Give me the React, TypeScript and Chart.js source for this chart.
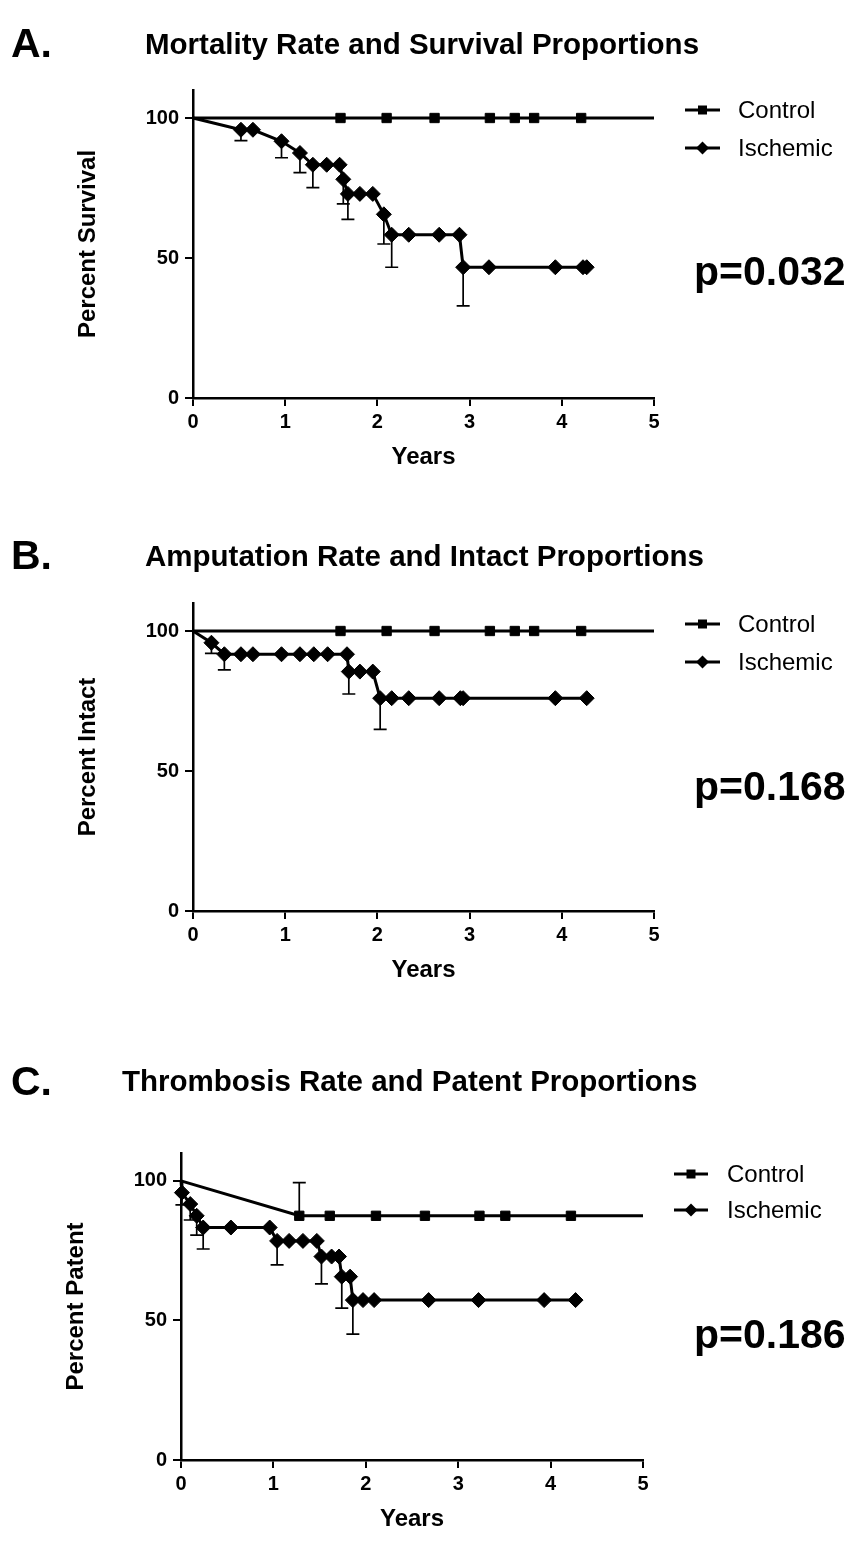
import React, { useEffect, useRef } from 'react';
import { Chart, registerables } from 'chart.js';

Chart.register(...registerables);

const FONT = '"Liberation Sans", Arial, Helvetica, sans-serif';

// ---------- shared ticks ----------
const xTickValues = [0, 1, 2, 3, 4, 5];
const yTickValues = [0, 50, 100];
const xMin = 0;
const xMax = 5;
const yMin = 0;
const yMax = 110;

// ---------- Panel A: Mortality ----------
const aControlYears = [0, 1.6, 2.1, 2.62, 3.22, 3.49, 3.7, 4.21, 5];
const aControlPct = [100, 100, 100, 100, 100, 100, 100, 100, 100];
const aControlErr: (number | null)[] = [null, null, null, null, null, null, null, null, null];
const aIschemicYears = [0, 0.52, 0.65, 0.96, 1.16, 1.3, 1.45, 1.59, 1.63, 1.68, 1.81, 1.95, 2.07, 2.155, 2.34, 2.67, 2.89, 2.93, 3.21, 3.93, 4.23, 4.27];
const aIschemicPct = [100, 95.8, 95.8, 91.7, 87.5, 83.3, 83.3, 83.3, 78.1, 72.9, 72.9, 72.9, 65.6, 58.3, 58.3, 58.3, 58.3, 46.7, 46.7, 46.7, 46.7, 46.7];
const aIschemicErr: (number | null)[] = [null, 91.9, null, 85.8, 80.5, 75.1, null, null, 69.3, 63.8, null, null, 55.0, 46.7, null, null, null, 32.9, null, null, null, null];

// ---------- Panel B: Amputation ----------
const bControlYears = [0, 1.6, 2.1, 2.62, 3.22, 3.49, 3.7, 4.21, 5];
const bControlPct = [100, 100, 100, 100, 100, 100, 100, 100, 100];
const bControlErr: (number | null)[] = [null, null, null, null, null, null, null, null, null];
const bIschemicYears = [0, 0.2, 0.34, 0.52, 0.65, 0.96, 1.16, 1.31, 1.46, 1.67, 1.69, 1.81, 1.95, 2.03, 2.155, 2.34, 2.67, 2.9, 2.93, 3.93, 4.27];
const bIschemicPct = [100, 95.8, 91.7, 91.7, 91.7, 91.7, 91.7, 91.7, 91.7, 91.7, 85.5, 85.5, 85.5, 76.0, 76.0, 76.0, 76.0, 76.0, 76.0, 76.0, 76.0];
const bIschemicErr: (number | null)[] = [null, 92.0, 86.1, null, null, null, null, null, null, null, 77.5, null, null, 64.9, null, null, null, null, null, null, null];

// ---------- Panel C: Thrombosis ----------
const cControlYears = [0, 1.28, 1.61, 2.11, 2.64, 3.23, 3.51, 4.22, 5];
const cControlPct = [100, 87.5, 87.5, 87.5, 87.5, 87.5, 87.5, 87.5, 87.5];
const cControlErr: (number | null)[] = [null, 99.4, null, null, null, null, null, null, null];
const cIschemicYears = [0, 0.01, 0.1, 0.17, 0.24, 0.54, 0.96, 1.04, 1.17, 1.32, 1.47, 1.52, 1.63, 1.71, 1.74, 1.83, 1.86, 1.97, 2.09, 2.68, 3.22, 3.93, 4.27];
const cIschemicPct = [100, 95.8, 91.7, 87.5, 83.3, 83.3, 83.3, 78.5, 78.5, 78.5, 78.5, 72.9, 72.9, 72.9, 65.7, 65.7, 57.3, 57.3, 57.3, 57.3, 57.3, 57.3, 57.3];
const cIschemicErr: (number | null)[] = [null, 91.4, 86.0, 80.6, 75.6, null, null, 69.9, null, null, null, 63.1, null, null, 54.4, null, 45.1, null, null, null, null, null, null];

const seriesLabels = ['Control', 'Ischemic'];

type Series = { years: number[]; pct: number[]; err: (number | null)[] };
type PanelCfg = {
  top: number;
  height: number;
  area: { left: number; right: number; top: number; bottom: number };
  letter: string;
  letterPos: [number, number];
  title: string;
  titlePos: [number, number];
  yTitle: string;
  control: Series;
  ischemic: Series;
  legend: { x1: number; x2: number; textX: number; y1: number; y2: number };
  p: string;
  pPos: [number, number];
};

const PANELS: PanelCfg[] = [
  {
    top: 0,
    height: 500,
    area: { left: 193, right: 654, top: 90, bottom: 398 },
    letter: 'A.',
    letterPos: [11, 57],
    title: 'Mortality Rate and Survival Proportions',
    titlePos: [145, 54],
    yTitle: 'Percent Survival',
    control: { years: aControlYears, pct: aControlPct, err: aControlErr },
    ischemic: { years: aIschemicYears, pct: aIschemicPct, err: aIschemicErr },
    legend: { x1: 685, x2: 720, textX: 738, y1: 110, y2: 148 },
    p: 'p=0.032',
    pPos: [694, 285],
  },
  {
    top: 500,
    height: 520,
    area: { left: 193, right: 654, top: 603, bottom: 911 },
    letter: 'B.',
    letterPos: [11, 569],
    title: 'Amputation Rate and Intact Proportions',
    titlePos: [145, 566],
    yTitle: 'Percent Intact',
    control: { years: bControlYears, pct: bControlPct, err: bControlErr },
    ischemic: { years: bIschemicYears, pct: bIschemicPct, err: bIschemicErr },
    legend: { x1: 685, x2: 720, textX: 738, y1: 624, y2: 662 },
    p: 'p=0.168',
    pPos: [694, 800],
  },
  {
    top: 1020,
    height: 523,
    area: { left: 181, right: 643, top: 1153, bottom: 1460 },
    letter: 'C.',
    letterPos: [11, 1095],
    title: 'Thrombosis Rate and Patent Proportions',
    titlePos: [122, 1091],
    yTitle: 'Percent Patent',
    control: { years: cControlYears, pct: cControlPct, err: cControlErr },
    ischemic: { years: cIschemicYears, pct: cIschemicPct, err: cIschemicErr },
    legend: { x1: 674, x2: 708, textX: 727, y1: 1174, y2: 1210 },
    p: 'p=0.186',
    pPos: [694, 1348],
  },
];

const Y_W = 120;
const X_H = 80;
const PAGE_W = 866;

const errorBarPlugin = {
  id: 'errorBars',
  beforeDatasetsDraw(chart: any) {
    const ctx = chart.ctx;
    const ys = chart.scales.y;
    ctx.save();
    ctx.strokeStyle = '#000';
    ctx.lineWidth = 1.7;
    chart.data.datasets.forEach((ds: any, di: number) => {
      const meta = chart.getDatasetMeta(di);
      const errs = ds.errEnds || [];
      meta.data.forEach((pt: any, i: number) => {
        const e = errs[i];
        if (e === null || e === undefined) return;
        const x = pt.x;
        const y0 = pt.y;
        const y1 = ys.getPixelForValue(e);
        ctx.beginPath();
        ctx.moveTo(x, y0);
        ctx.lineTo(x, y1);
        ctx.moveTo(x - 6.5, y1);
        ctx.lineTo(x + 6.5, y1);
        ctx.stroke();
      });
    });
    ctx.restore();
  },
};

function makeTextPlugin(cfg: PanelCfg) {
  return {
    id: 'panelText',
    afterDraw(chart: any) {
      const ctx = chart.ctx as CanvasRenderingContext2D;
      const off = cfg.top;
      ctx.save();
      ctx.fillStyle = '#000';
      ctx.strokeStyle = '#000';
      ctx.textAlign = 'left';
      ctx.textBaseline = 'alphabetic';
      // panel letter
      ctx.font = `bold 41px ${FONT}`;
      ctx.fillText(cfg.letter, cfg.letterPos[0], cfg.letterPos[1] - off);
      // title
      ctx.font = `bold 29.5px ${FONT}`;
      ctx.fillText(cfg.title, cfg.titlePos[0], cfg.titlePos[1] - off);
      // legend
      const lg = cfg.legend;
      const rows = [lg.y1, lg.y2];
      rows.forEach((yy, idx) => {
        const y = yy - off;
        ctx.lineWidth = 3;
        ctx.beginPath();
        ctx.moveTo(lg.x1, y);
        ctx.lineTo(lg.x2, y);
        ctx.stroke();
        const cx = (lg.x1 + lg.x2) / 2;
        ctx.beginPath();
        if (idx === 0) {
          ctx.rect(cx - 4.5, y - 4.5, 9, 9);
        } else {
          ctx.moveTo(cx, y - 6.5);
          ctx.lineTo(cx + 6.5, y);
          ctx.lineTo(cx, y + 6.5);
          ctx.lineTo(cx - 6.5, y);
          ctx.closePath();
        }
        ctx.fill();
        ctx.font = `24px ${FONT}`;
        ctx.textBaseline = 'middle';
        ctx.fillText(seriesLabels[idx], lg.textX, y + 1);
        ctx.textBaseline = 'alphabetic';
      });
      // p value
      ctx.font = `bold 41px ${FONT}`;
      ctx.fillText(cfg.p, cfg.pPos[0], cfg.pPos[1] - off);
      ctx.restore();
    },
  };
}

function markerRadius(r: number) {
  return (c: any) => {
    const raw = c.raw;
    if (!raw) return r;
    return raw.x === xMin || raw.x === xMax ? 0 : r;
  };
}

function Panel({ cfg }: { cfg: PanelCfg }) {
  const ref = useRef<HTMLCanvasElement | null>(null);
  useEffect(() => {
    if (!ref.current) return;
    const toPts = (s: Series) => s.years.map((x, i) => ({ x, y: s.pct[i] }));
    const tickFont = { family: FONT, size: 20, weight: 'bold' as const };
    const titleFont = { family: FONT, size: 24, weight: 'bold' as const };
    const chart = new Chart(ref.current, {
      type: 'line',
      data: {
        datasets: [
          {
            label: seriesLabels[0],
            data: toPts(cfg.control),
            errEnds: cfg.control.err,
            borderColor: '#000',
            backgroundColor: '#000',
            borderWidth: 3,
            pointStyle: 'rect',
            pointRadius: markerRadius(6.6),
            pointBackgroundColor: '#000',
            pointBorderColor: '#000',
            pointBorderWidth: 1,
            tension: 0,
            clip: false,
            fill: false,
          } as any,
          {
            label: seriesLabels[1],
            data: toPts(cfg.ischemic),
            errEnds: cfg.ischemic.err,
            borderColor: '#000',
            backgroundColor: '#000',
            borderWidth: 3,
            pointStyle: 'rectRot',
            pointRadius: markerRadius(7.5),
            pointBackgroundColor: '#000',
            pointBorderColor: '#000',
            pointBorderWidth: 1,
            tension: 0,
            clip: false,
            fill: false,
          } as any,
        ],
      },
      options: {
        animation: false,
        responsive: false,
        devicePixelRatio: 1,
        events: [],
        layout: {
          padding: {
            left: cfg.area.left - Y_W,
            right: PAGE_W - cfg.area.right,
            top: cfg.area.top - cfg.top,
            bottom: cfg.top + cfg.height - cfg.area.bottom - X_H,
          },
        },
        plugins: {
          legend: { display: false },
          tooltip: { enabled: false },
          title: { display: false },
        },
        scales: {
          x: {
            type: 'linear',
            min: xMin,
            max: xMax,
            afterBuildTicks: (s: any) => {
              s.ticks = xTickValues.map((v) => ({ value: v }));
            },
            afterFit: (s: any) => {
              s.height = X_H;
            },
            border: { display: true, color: '#000', width: 2.5 },
            grid: {
              display: true,
              drawOnChartArea: false,
              drawTicks: true,
              tickLength: 8,
              color: '#000',
              lineWidth: 2,
            },
            ticks: {
              color: '#000',
              font: tickFont,
              padding: 4,
              maxRotation: 0,
              autoSkip: false,
            },
            title: {
              display: true,
              text: 'Years',
              color: '#000',
              font: titleFont,
              padding: { top: 0, bottom: 6 },
            },
          },
          y: {
            type: 'linear',
            min: yMin,
            max: yMax,
            afterBuildTicks: (s: any) => {
              s.ticks = yTickValues.map((v) => ({ value: v }));
            },
            afterFit: (s: any) => {
              s.width = Y_W;
            },
            border: { display: true, color: '#000', width: 2.5 },
            grid: {
              display: true,
              drawOnChartArea: false,
              drawTicks: true,
              tickLength: 8,
              color: '#000',
              lineWidth: 2,
            },
            ticks: {
              color: '#000',
              font: tickFont,
              padding: 6,
              autoSkip: false,
            },
            title: {
              display: true,
              text: cfg.yTitle,
              color: '#000',
              font: titleFont,
              padding: { top: 1, bottom: 0 },
            },
          },
        },
      } as any,
      plugins: [errorBarPlugin, makeTextPlugin(cfg)],
    });
    return () => chart.destroy();
  }, [cfg]);
  return (
    <canvas
      ref={ref}
      width={PAGE_W}
      height={cfg.height}
      style={{ position: 'absolute', left: 0, top: cfg.top, width: PAGE_W, height: cfg.height, display: 'block' }}
    />
  );
}

export default function App() {
  return (
    <div style={{ position: 'absolute', left: 0, top: 0, width: PAGE_W, height: 1543, background: '#fff', overflow: 'hidden' }}>
      {PANELS.map((p) => (
        <Panel key={p.letter} cfg={p} />
      ))}
    </div>
  );
}
